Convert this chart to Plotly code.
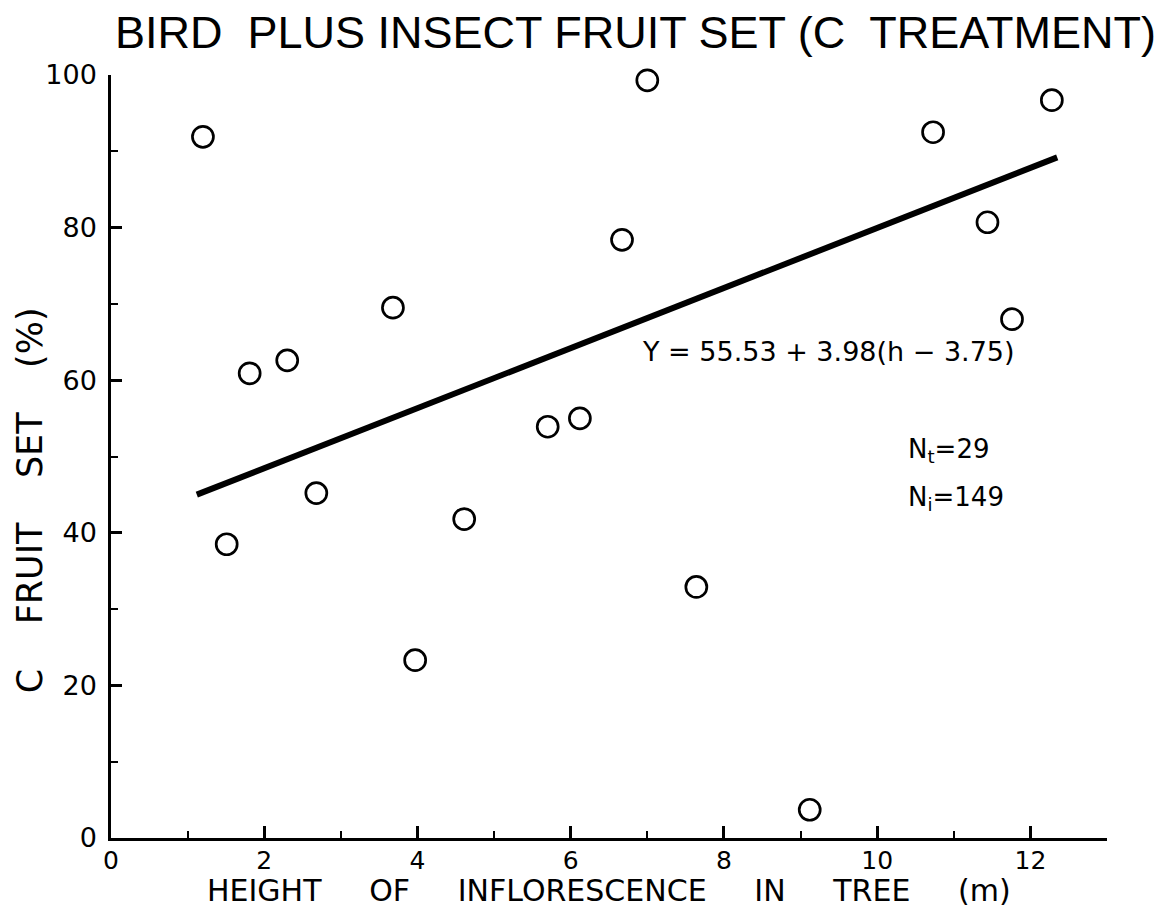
import plotly.graph_objects as go

# datos
altura_m = [1.20, 1.51, 1.81, 2.30, 2.68, 3.68, 3.97, 4.61, 5.70, 6.12,
            6.67, 7.00, 7.64, 9.12, 10.73, 11.44, 11.76, 12.28]
fruit_set = [91.9, 38.5, 60.9, 62.6, 45.2, 69.5, 23.3, 41.8, 53.9, 55.0,
             78.4, 99.3, 32.9, 3.7, 92.5, 80.7, 68.0, 96.7]

# recta de regresion (extremos)
recta_h = [1.12, 12.35]
recta_y = [45.0, 89.2]

x_ticks = [0, 2, 4, 6, 8, 10, 12]
y_ticks = [0, 20, 40, 60, 80, 100]

FONT = "DejaVu Sans, Liberation Sans, sans-serif"
TITLE_FONT = "Liberation Sans, Arial, sans-serif"

fig = go.Figure()

fig.add_trace(go.Scatter(
    x=recta_h, y=recta_y, mode="lines",
    line=dict(color="black", width=6),
    showlegend=False, hoverinfo="skip"
))

fig.add_trace(go.Scatter(
    x=altura_m, y=fruit_set, mode="markers",
    marker=dict(symbol="circle-open", size=21, color="black", line=dict(width=2.7)),
    cliponaxis=False, showlegend=False
))

fig.add_annotation(x=6.9, y=63.7, xref="x", yref="y", xanchor="left", yanchor="middle",
                   text="Y = 55.53 + 3.98(h \u2212 3.75)", showarrow=False,
                   font=dict(family=FONT, size=27, color="black"))
fig.add_annotation(x=10.37, y=50.8, xref="x", yref="y", xanchor="left", yanchor="middle",
                   text="N<sub>t</sub>=29", showarrow=False,
                   font=dict(family=FONT, size=26, color="black"))
fig.add_annotation(x=10.37, y=44.5, xref="x", yref="y", xanchor="left", yanchor="middle",
                   text="N<sub>i</sub>=149", showarrow=False,
                   font=dict(family=FONT, size=26, color="black"))

# titulos de ejes como anotaciones para fijar la posicion
fig.add_annotation(x=0.5, y=-0.069, xref="paper", yref="paper", xanchor="center", yanchor="middle",
                   text="HEIGHT     OF     INFLORESCENCE     IN     TREE     (m)", showarrow=False,
                   font=dict(family=FONT, size=30, color="black"))
fig.add_annotation(x=-0.081, y=0.443, xref="paper", yref="paper", xanchor="center", yanchor="middle",
                   text="C    FRUIT    SET    (%)", showarrow=False, textangle=-90,
                   font=dict(family=FONT, size=35, color="black"))

fig.update_xaxes(
    range=[0, 13], tickvals=x_ticks, ticktext=[str(v) for v in x_ticks],
    showline=True, linecolor="black", linewidth=2.5,
    ticks="inside", ticklen=12, tickwidth=2.5, tickcolor="black",
    minor=dict(dtick=1, tick0=0, ticks="inside", ticklen=7, tickwidth=2, tickcolor="black", showgrid=False),
    showgrid=False, zeroline=False, automargin=False, ticklabelstandoff=-2,
    tickfont=dict(family=FONT, size=25, color="black")
)
fig.update_yaxes(
    range=[0, 100], tickvals=y_ticks, ticktext=[str(v) for v in y_ticks],
    showline=True, linecolor="black", linewidth=2.5,
    ticks="inside", ticklen=11, tickwidth=2.5, tickcolor="black",
    minor=dict(dtick=10, tick0=0, ticks="inside", ticklen=7, tickwidth=2, tickcolor="black", showgrid=False),
    showgrid=False, zeroline=False, automargin=False, ticklabelstandoff=6,
    tickfont=dict(family=FONT, size=27, color="black")
)

fig.update_layout(
    width=1172, height=916,
    margin=dict(l=103, r=73, t=67, b=86),
    plot_bgcolor="white", paper_bgcolor="white",
    title=dict(text="BIRD  PLUS INSECT FRUIT SET (C  TREATMENT)", x=0.0913, xanchor="left",
               y=0.974, yanchor="middle",
               font=dict(family=TITLE_FONT, size=45, color="black"))
)

fig.write_html("out.html")
